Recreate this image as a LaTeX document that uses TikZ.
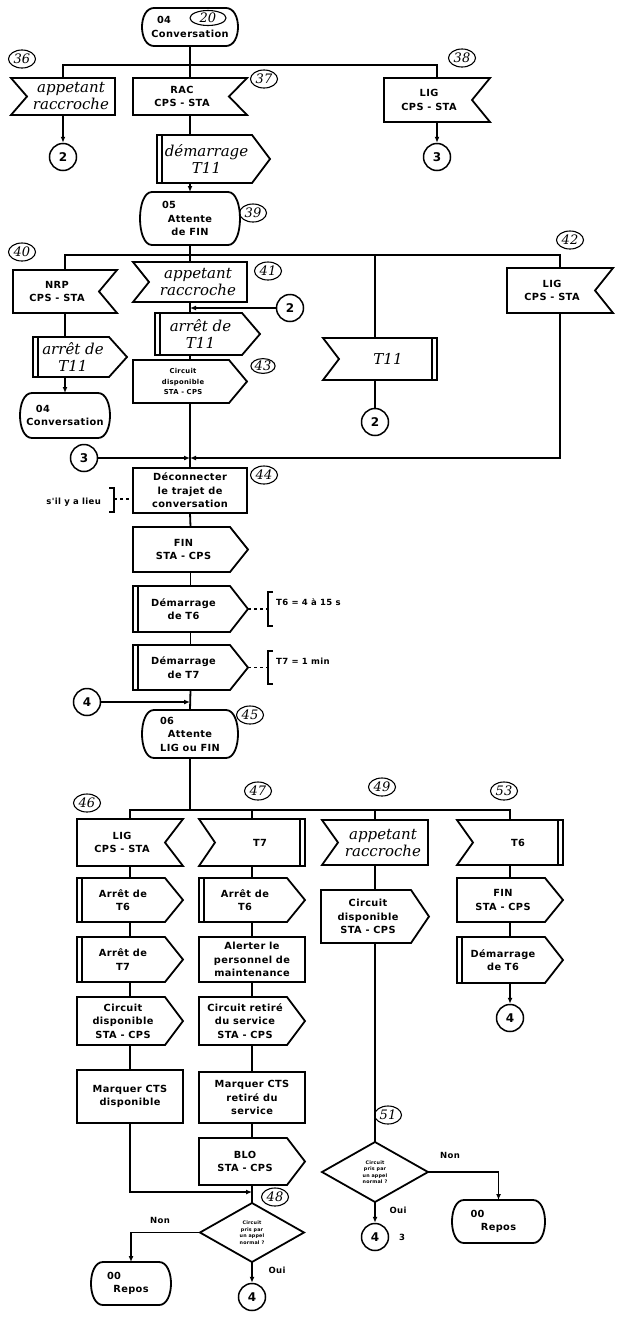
\documentclass[tikz,border=0pt]{standalone}
\usepackage{fontspec}
\newfontfamily\tf{DejaVu Sans}[LetterSpace=4]
\newfontfamily\hand{DejaVu Serif}
\usetikzlibrary{arrows.meta,calc,shapes.geometric}

\tikzset{
  ln/.style={line width=1.8pt},
  frm/.style={rectangle, draw=none, inner sep=0pt, outer sep=0pt},
  tx/.style={font=\tf\bfseries\fontsize{9.8}{13.5}\selectfont, align=center, inner sep=0pt},
  txs/.style={font=\tf\bfseries\fontsize{6.8}{10.5}\selectfont, align=center, inner sep=0pt},
  txd/.style={font=\tf\bfseries\fontsize{4.8}{6.5}\selectfont, align=center, inner sep=0pt},
  hw/.style={font=\hand\itshape\fontsize{15}{17}\selectfont, align=center, inner sep=0pt},
  lbl/.style={draw, ellipse, line width=1.1pt, inner sep=0.3pt, minimum width=27pt, minimum height=18pt, font=\hand\itshape\fontsize{13}{13}\selectfont},
  conn/.style={draw, circle, line width=1.5pt, minimum size=27pt, inner sep=0pt, font=\tf\bfseries\fontsize{12}{12}\selectfont},
  arr/.style={ln, -{Latex[length=6pt,width=5pt]}},
  cmt/.style={font=\tf\bfseries\fontsize{8.5}{10}\selectfont, inner sep=0pt},
  brk/.style={line width=1.3pt},
}

\newcommand\mkframe[5]{\node[frm, minimum width={#4-#2}, minimum height={#5-#3}] (#1) at ({(#2+#4)/2},{(#3+#5)/2}) {};}
\newcommand\Task[7]{\mkframe{#1}{#2}{#3}{#4}{#5}
  \draw[ln] (#1.north west) rectangle (#1.south east);
  \node[#6] (#1-t) at (#1.center) {#7};}
\newcommand\InR[7]{\mkframe{#1}{#2}{#3}{#4}{#5}
  \draw[ln] (#1.north west) -- (#1.north east) -- ([xshift=-18pt]#1.east) -- (#1.south east) -- (#1.south west) -- cycle;
  \node[#6] (#1-t) at ([xshift=-8pt]#1.center) {#7};}
\newcommand\InL[7]{\mkframe{#1}{#2}{#3}{#4}{#5}
  \draw[ln] (#1.north west) -- (#1.north east) -- (#1.south east) -- (#1.south west) -- ([xshift=16pt]#1.west) -- cycle;
  \node[#6] (#1-t) at ([xshift=8pt]#1.center) {#7};}
\newcommand\TimIn[7]{\InL{#1}{#2}{#3}{#4}{#5}{#6}{#7}
  \draw[ln] ([xshift=-5pt]#1.north east) -- ([xshift=-5pt]#1.south east);}
\newcommand\Out[7]{\mkframe{#1}{#2}{#3}{#4}{#5}
  \draw[ln] (#1.north west) -- ([xshift=-18pt]#1.north east) -- (#1.east) -- ([xshift=-18pt]#1.south east) -- (#1.south west) -- cycle;
  \node[#6] (#1-t) at ([xshift=-7pt]#1.center) {#7};}
\newcommand\TimOut[7]{\Out{#1}{#2}{#3}{#4}{#5}{#6}{#7}
  \draw[ln] ([xshift=5pt]#1.north west) -- ([xshift=5pt]#1.south west);}
\newcommand\State[7]{\mkframe{#1}{#2}{#3}{#4}{#5}
  \draw[ln] ([xshift=12pt]#1.north west) -- ([xshift=-12pt]#1.north east)
    .. controls ([xshift=4pt]#1.north east) and ([xshift=4pt]#1.south east) .. ([xshift=-12pt]#1.south east)
    -- ([xshift=12pt]#1.south west)
    .. controls ([xshift=-4pt]#1.south west) and ([xshift=-4pt]#1.north west) .. ([xshift=12pt]#1.north west) -- cycle;
  \node[#6] (#1-t) at (#1.center) {#7};}
\newcommand\Dec[7]{\mkframe{#1}{#2}{#3}{#4}{#5}
  \draw[ln] (#1.north) -- (#1.east) -- (#1.south) -- (#1.west) -- cycle;
  \node[#6] (#1-t) at (#1.center) {#7};}

\begin{document}
\begin{tikzpicture}[x=1pt,y=-1pt]
\useasboundingbox (0,0) rectangle (627,1317);

% ---------- top section ----------
\State{st04}{142}{8}{238}{46}{tx}{\makebox[66pt][l]{04}\\Conversation}
\node[lbl, minimum width=36pt, minimum height=15pt] (l20) at (208,18) {20};
\InL{app1}{11}{78}{115}{115}{hw}{appetant\\raccroche}
\node[lbl] (l36) at (22,59) {36};
\node[conn] (c2a) at (63,157) {2};
\InR{rac}{133}{78}{247}{115}{tx}{RAC\\CPS - STA}
\node[lbl] (l37) at (264,79) {37};
\InR{lig1}{384}{78}{490}{122}{tx}{LIG\\CPS - STA}
\node[lbl] (l38) at (462,58) {38};
\node[conn] (c3a) at (437,157) {3};
\TimOut{dem11}{157}{135}{270}{183}{hw}{démarrage\\T11}
\State{st05}{140}{192}{240}{245}{tx}{\makebox[56pt][l]{05}\\Attente\\de FIN}
\node[lbl] (l39) at (253,213) {39};

\coordinate (b1) at (190,65);
\draw[ln] (st04.south) -- (rac.north);
\draw[ln] (app1.north) -- (app1.north |- b1) -- (lig1.north |- b1) -- (lig1.north);
\draw[arr] (app1.south) -- (c2a.north);
\draw[arr] (lig1.south) -- (c3a.north);
\draw[ln] (rac.south) -- (rac.south |- dem11.north);
\draw[arr] (rac.south |- dem11.south) -- (st05.north);

% ---------- second section ----------
\InR{nrp}{13}{270}{117}{313}{tx}{NRP\\CPS - STA}
\node[lbl] (l40) at (22,252) {40};
\TimOut{arr11a}{33}{337}{127}{377}{hw}{arrêt de\\T11}
\State{st04b}{20}{393}{110}{438}{tx}{\makebox[58pt][l]{04}\\Conversation}
\InL{app2}{133}{262}{247}{302}{hw}{appetant\\raccroche}
\node[lbl] (l41) at (268,271) {41};
\node[conn] (c2b) at (290,308) {2};
\TimOut{arr11b}{155}{313}{260}{355}{hw}{arrêt de\\T11}
\Out{cd1}{133}{360}{247}{403}{txs}{Circuit\\disponible\\STA - CPS}
\node[lbl, minimum width=24pt, minimum height=14pt] (l43) at (263,366) {43};
\TimIn{t11}{323}{338}{437}{380}{hw}{T11}
\node[conn] (c2c) at (375,422) {2};
\InR{lig2}{507}{268}{613}{313}{tx}{LIG\\CPS - STA}
\node[lbl] (l42) at (570,240) {42};
\node[conn] (c3b) at (84,458) {3};

\coordinate (b2) at (190,255);
\coordinate (t11b) at (375,255);
\coordinate (j1) at (190,458);
\draw[ln] (st05.south) -- (app2.north);
\draw[ln] (nrp.north) -- (nrp.north |- b2) -- (lig2.north |- b2) -- (lig2.north);
\draw[ln] (t11b) -- (t11b |- t11.north);
\draw[ln] (t11b |- t11.south) -- (c2c.north);
\draw[ln] (nrp.south) -- (nrp.south |- arr11a.north);
\draw[arr] (nrp.south |- arr11a.south) -- (st04b.north);
\draw[ln] (app2.south) -- (app2.south |- arr11b.north);
\draw[arr] (c2b.west) -- (c2b.west -| app2.south);
\draw[ln] (app2.south |- arr11b.south) -- (cd1.north);
\draw[arr] (c3b.east) -- (j1);
\draw[arr] (lig2.south) -- (lig2.south |- j1) -- (j1);

% ---------- third section ----------
\Task{disc}{133}{468}{247}{513}{tx}{Déconnecter\\le trajet de\\conversation}
\node[lbl] (l44) at (264,475) {44};
\node[cmt, anchor=east] (sil) at (101,502) {s'il y a lieu};
\coordinate (bk1) at (114,499);
\draw[brk] (109,488) -- (114,488) -- (114,512) -- (109,512);
\draw[brk, dashed] (bk1) -- (bk1 -| disc.west);
\Out{fin1}{133}{527}{248}{572}{tx}{FIN\\STA - CPS}
\TimOut{dem6}{133}{586}{248}{632}{tx}{Démarrage\\de T6}
\TimOut{dem7}{133}{645}{248}{690}{tx}{Démarrage\\de T7}
\coordinate (bk6) at (268,609);
\coordinate (bk7) at (268,667.5);
\draw[brk, dashed] (dem6.east) -- (bk6);
\draw[brk] (273,592) -- (268,592) -- (268,626) -- (273,626);
\node[cmt, anchor=west] (t6c) at (276,602) {T6 = 4 à 15 s};
\draw[brk, dashed] (dem7.east) -- (bk7);
\draw[brk] (273,651) -- (268,651) -- (268,684) -- (273,684);
\node[cmt, anchor=west] (t7c) at (276,661) {T7 = 1 min};
\node[conn] (c4a) at (87,702) {4};
\coordinate (j2) at (190,702);
\State{st06}{142}{710}{238}{758}{tx}{\makebox[60pt][l]{06}\\Attente\\LIG ou FIN}
\node[lbl] (l45) at (250,715) {45};

\draw[ln] (cd1.south) -- (disc.north);
\draw[ln] (disc.south) -- (fin1.north);
\draw[ln] (fin1.south) -- (dem6.north);
\draw[ln] (dem6.south) -- (dem7.north);
\draw[ln] (dem7.south) -- (st06.north);
\draw[arr] (c4a.east) -- (j2);

% ---------- fourth section ----------
\InR{lig3}{77}{819}{183}{866}{tx}{LIG\\CPS - STA}
\node[lbl] (l46) at (87,803) {46};
\TimOut{ar6a}{77}{878}{183}{922}{tx}{Arrêt de\\T6}
\TimOut{ar7}{77}{937}{183}{982}{tx}{Arrêt de\\T7}
\Out{cd2}{77}{997}{183}{1045}{tx}{Circuit\\disponible\\STA - CPS}
\Task{mk1}{77}{1070}{183}{1123}{tx}{Marquer CTS\\disponible}

\TimIn{t7}{199}{819}{305}{866}{tx}{T7}
\node[lbl] (l47) at (258,791) {47};
\TimOut{ar6b}{199}{878}{305}{922}{tx}{Arrêt de\\T6}
\Task{alert}{199}{937}{305}{982}{tx}{Alerter le\\personnel de\\maintenance}
\Out{crs}{199}{997}{305}{1045}{tx}{Circuit retiré\\du service\\STA - CPS}
\Task{mk2}{199}{1072}{305}{1123}{tx}{Marquer CTS\\retiré du\\service}
\Out{blo}{199}{1138}{305}{1185}{tx}{BLO\\STA - CPS}
\node[lbl] (l48) at (275,1197) {48};
\Dec{dec1}{200}{1203}{304}{1262}{txd}{Circuit\\pris par\\un appel\\normal ?}
\State{rp1}{91}{1262}{171}{1305}{tx}{\makebox[48pt][l]{00}\\Repos}
\node[conn] (c4b) at (252,1297) {4};
\node[cmt] (non1) at (160,1220) {Non};
\node[cmt] (oui1) at (277,1270) {Oui};

\InL{app3}{322}{820}{428}{865}{hw}{appetant\\raccroche}
\node[lbl] (l49) at (382,787) {49};
\Out{cd3}{321}{890}{429}{943}{tx}{Circuit\\disponible\\STA - CPS}
\node[lbl] (l51) at (388,1115) {51};
\Dec{dec2}{322}{1142}{428}{1202}{txd}{Circuit\\pris par\\un appel\\normal ?}
\State{rp2}{452}{1200}{545}{1243}{tx}{\makebox[56pt][l]{00}\\Repos}
\node[conn] (c4c) at (375,1237) {4};
\node[cmt] (n3) at (402,1237) {3};
\node[cmt] (non2) at (450,1155) {Non};
\node[cmt] (oui2) at (398,1210) {Oui};

\TimIn{t6}{457}{820}{563}{865}{tx}{T6}
\node[lbl] (l53) at (504,791) {53};
\Out{fin2}{457}{878}{563}{922}{tx}{FIN\\STA - CPS}
\TimOut{dem6b}{457}{937}{563}{983}{tx}{Démarrage\\de T6}
\node[conn] (c4d) at (510,1018) {4};

\coordinate (b3) at (190,810);
\coordinate (j3) at (252,1192);
\draw[ln] (st06.south) -- (b3);
\draw[ln] (lig3.north) -- (lig3.north |- b3) -- (t6.north |- b3) -- (t6.north);
\draw[ln] (t7.north) -- (t7.north |- b3);
\draw[ln] (app3.north) -- (app3.north |- b3);

\draw[ln] (lig3.south) -- (ar6a.north);
\draw[ln] (ar6a.south) -- (ar7.north);
\draw[ln] (ar7.south) -- (cd2.north);
\draw[ln] (cd2.south) -- (mk1.north);
\draw[arr] (mk1.south) |- (j3);

\draw[ln] (t7.south) -- (ar6b.north);
\draw[ln] (ar6b.south) -- (alert.north);
\draw[ln] (alert.south) -- (crs.north);
\draw[ln] (crs.south) -- (mk2.north);
\draw[ln] (mk2.south) -- (blo.north);
\draw[ln] (blo.south) -- (dec1.north);
\draw[arr] (dec1.west) -| (rp1.north);
\draw[arr] (dec1.south) -- (c4b.north);

\draw[ln] (app3.south) -- (cd3.north);
\draw[ln] (cd3.south) -- (dec2.north);
\draw[arr] (dec2.east) -| (rp2.north);
\draw[arr] (dec2.south) -- (c4c.north);

\draw[ln] (t6.south) -- (fin2.north);
\draw[ln] (fin2.south) -- (dem6b.north);
\draw[arr] (dem6b.south) -- (c4d.north);
\end{tikzpicture}
\end{document}
